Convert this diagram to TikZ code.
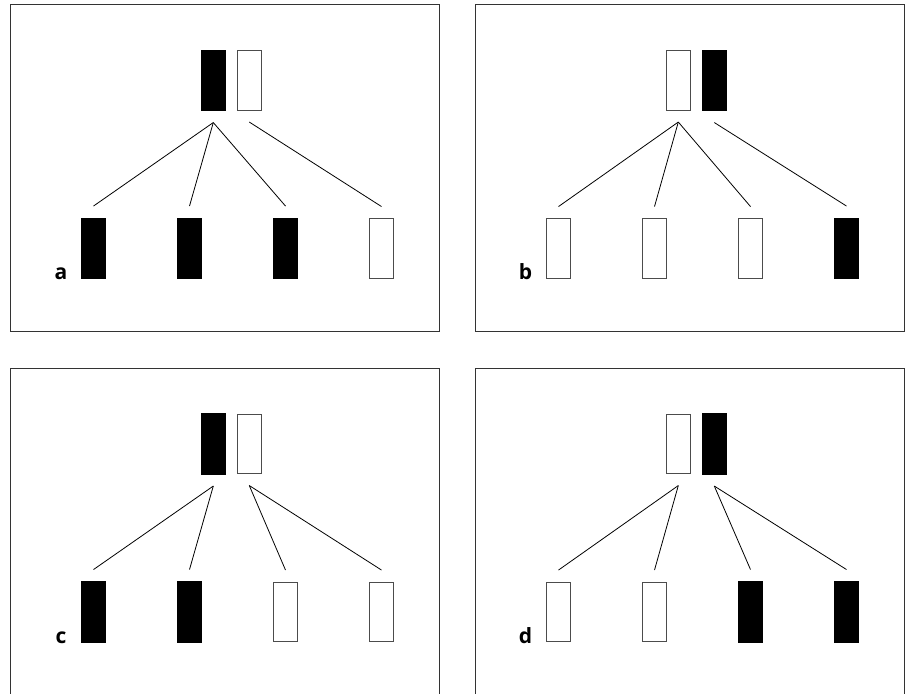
\documentclass[tikz,border=0pt]{standalone}
\usepackage{fontspec}
\setmainfont{Open Sans}
\usetikzlibrary{calc}
\tikzset{
  x=1pt, y=-1pt,
  frame/.style={draw=black!80, line width=1pt},
  blk/.style={draw=black, fill=black, line width=0pt, minimum width=24.5pt, minimum height=60.5pt, inner sep=0pt, outer sep=0pt},
  wht/.style={draw=black!70, fill=white, line width=1pt, minimum width=23.5pt, minimum height=59.5pt, inner sep=0pt, outer sep=0pt},
  link/.style={draw=black, line width=0.8pt},
  lab/.style={font=\fontsize{21}{21}\selectfont\bfseries, anchor=base, inner sep=0pt}
}
\begin{document}
\begin{tikzpicture}
\useasboundingbox (0,0) rectangle (907,693);
\clip (0,0) rectangle (907,693);
% ---------- panel a ----------
\begin{scope}[shift={(0,0)}]
  \node[frame, minimum width=429.5pt, minimum height=327pt, inner sep=0pt, anchor=north west] (fa) at (9.5,4) {};
  \node[blk] (at1) at (213.3,80.3) {};
  \node[wht] (at2) at (249.3,80.3) {};
  \node[blk] (ab1) at (93.5,248.3) {};
  \node[blk] (ab2) at (189.5,248.3) {};
  \node[blk] (ab3) at (285.5,248.3) {};
  \node[wht] (ab4) at (381.5,248.3) {};
  \node[lab] (la) at (61,279.5) {a};
  \draw[link] ($(at1.south)+(0,12)$) -- ($(ab1.north)+(0,-12)$);
  \draw[link] ($(at1.south)+(0,12)$) -- ($(ab2.north)+(0,-12)$);
  \draw[link] ($(at1.south)+(0,12)$) -- ($(ab3.north)+(0,-12)$);
  \draw[link] ($(at2.south)+(0,12)$) -- ($(ab4.north)+(0,-12)$);
\end{scope}
% ---------- panel b ----------
\begin{scope}[shift={(465,0)}]
  \node[frame, minimum width=429.5pt, minimum height=327pt, inner sep=0pt, anchor=north west] (fb) at (9.5,4) {};
  \node[wht] (bt1) at (213.3,80.3) {};
  \node[blk] (bt2) at (249.3,80.3) {};
  \node[wht] (bb1) at (93.5,248.3) {};
  \node[wht] (bb2) at (189.5,248.3) {};
  \node[wht] (bb3) at (285.5,248.3) {};
  \node[blk] (bb4) at (381.5,248.3) {};
  \node[lab] (lb) at (60.5,279.5) {b};
  \draw[link] ($(bt1.south)+(0,12)$) -- ($(bb1.north)+(0,-12)$);
  \draw[link] ($(bt1.south)+(0,12)$) -- ($(bb2.north)+(0,-12)$);
  \draw[link] ($(bt1.south)+(0,12)$) -- ($(bb3.north)+(0,-12)$);
  \draw[link] ($(bt2.south)+(0,12)$) -- ($(bb4.north)+(0,-12)$);
\end{scope}
% ---------- panel c ----------
\begin{scope}[shift={(0,363.5)}]
  \node[frame, minimum width=429.5pt, minimum height=327pt, inner sep=0pt, anchor=north west] (fc) at (9.5,4) {};
  \node[blk] (ct1) at (213.3,80.3) {};
  \node[wht] (ct2) at (249.3,80.3) {};
  \node[blk] (cb1) at (93.5,248.3) {};
  \node[blk] (cb2) at (189.5,248.3) {};
  \node[wht] (cb3) at (285.5,248.3) {};
  \node[wht] (cb4) at (381.5,248.3) {};
  \node[lab] (lc) at (61,279.5) {c};
  \draw[link] ($(ct1.south)+(0,12)$) -- ($(cb1.north)+(0,-12)$);
  \draw[link] ($(ct1.south)+(0,12)$) -- ($(cb2.north)+(0,-12)$);
  \draw[link] ($(ct2.south)+(0,12)$) -- ($(cb3.north)+(0,-12)$);
  \draw[link] ($(ct2.south)+(0,12)$) -- ($(cb4.north)+(0,-12)$);
\end{scope}
% ---------- panel d ----------
\begin{scope}[shift={(465,363.5)}]
  \node[frame, minimum width=429.5pt, minimum height=327pt, inner sep=0pt, anchor=north west] (fd) at (9.5,4) {};
  \node[wht] (dt1) at (213.3,80.3) {};
  \node[blk] (dt2) at (249.3,80.3) {};
  \node[wht] (db1) at (93.5,248.3) {};
  \node[wht] (db2) at (189.5,248.3) {};
  \node[blk] (db3) at (285.5,248.3) {};
  \node[blk] (db4) at (381.5,248.3) {};
  \node[lab] (ld) at (60.5,279.5) {d};
  \draw[link] ($(dt1.south)+(0,12)$) -- ($(db1.north)+(0,-12)$);
  \draw[link] ($(dt1.south)+(0,12)$) -- ($(db2.north)+(0,-12)$);
  \draw[link] ($(dt2.south)+(0,12)$) -- ($(db3.north)+(0,-12)$);
  \draw[link] ($(dt2.south)+(0,12)$) -- ($(db4.north)+(0,-12)$);
\end{scope}
\end{tikzpicture}
\end{document}
